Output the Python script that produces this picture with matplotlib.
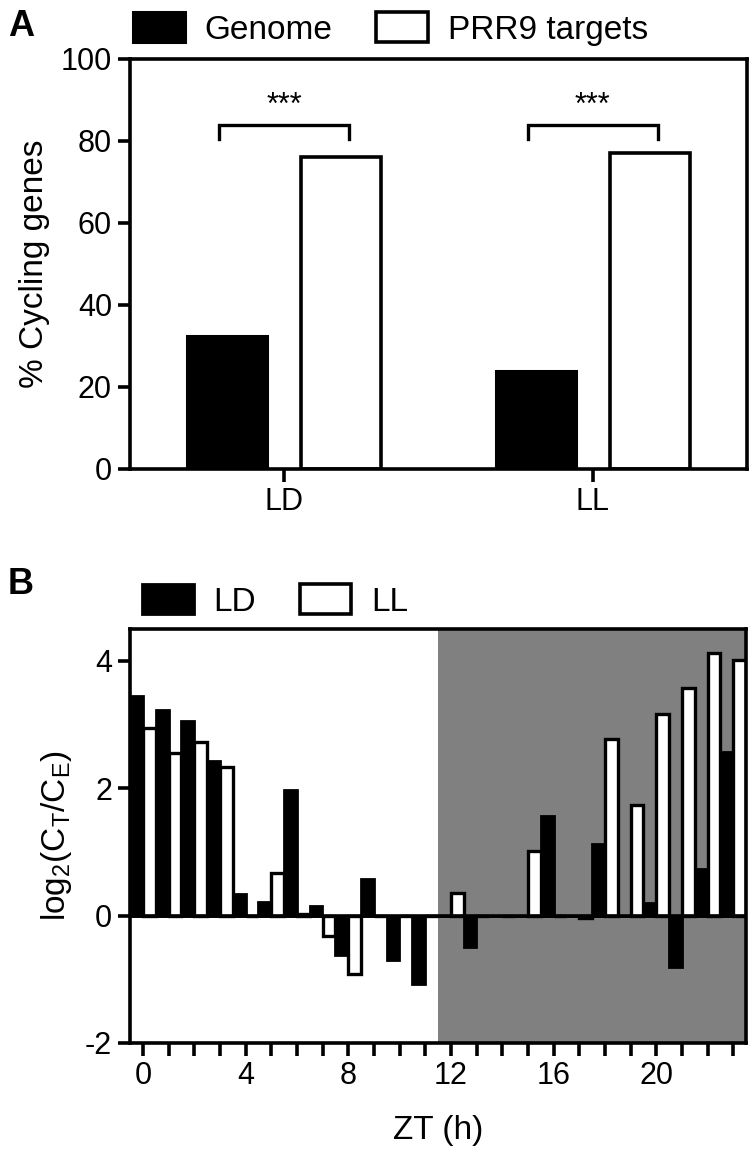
import numpy as np
import matplotlib.pyplot as plt
from matplotlib.patches import Patch

plt.rcParams['font.family'] = ['Liberation Sans', 'DejaVu Sans']
plt.rcParams['mathtext.default'] = 'regular'
plt.rcParams['axes.unicode_minus'] = False
plt.rcParams['font.size'] = 22

# Panel A: % cycling genes
conditions = ["LD", "LL"]
genome_pct = [32.4, 23.9]
prr9_pct = [76.0, 77.0]
sig_labels = ["***", "***"]

# Panel B: log2(CT/CE) per ZT hour
zt_hours = list(range(24))
ld_log2 = [3.45, 3.23, 3.06, 2.43, 0.34, 0.22, 1.97, 0.15, -0.62, 0.58, -0.70, -1.07,
           0.0, -0.49, 0.0, 0.0, 1.56, 0.0, 1.12, 0.0, 0.20, -0.80, 0.73, 2.57]
ll_log2 = [2.95, 2.55, 2.73, 2.34, 0.0, 0.67, 0.02, -0.32, -0.91, 0.0, 0.0, 0.0,
           0.35, 0.0, 0.0, 1.01, 0.0, -0.04, 2.78, 1.73, 3.17, 3.57, 4.12, 4.01]
zt_labels = ["0", "4", "8", "12", "16", "20"]

W, H = 752, 1168
fig = plt.figure(figsize=(W / 100, H / 100), dpi=100)


def px_axes(left, top, right, bottom):
    return fig.add_axes([left / W, 1 - bottom / H, (right - left) / W, (bottom - top) / H])


def style_axes(ax):
    for sp in ax.spines.values():
        sp.set_linewidth(2.6)
    ax.tick_params(width=2.6, length=9, direction="out", pad=4, labelsize=22)


legend_kw = dict(loc="center left", ncol=2, frameon=False, handlelength=1.55,
                 handleheight=1.0, handletextpad=0.6, columnspacing=1.3,
                 borderpad=0, borderaxespad=0, fontsize=24)

# ---- Panel A
axA = px_axes(130, 59, 747, 469)
style_axes(axA)
x = np.arange(len(conditions))
bw = 0.26
axA.bar(x - 0.185, genome_pct, bw, color="black", edgecolor="black", linewidth=2.2)
axA.bar(x + 0.185, prr9_pct, bw, color="white", edgecolor="black", linewidth=2.6)
axA.set_xlim(-0.5, 1.5)
axA.set_ylim(0, 100)
axA.set_yticks([0, 20, 40, 60, 80, 100])
axA.set_xticks(x)
axA.set_xticklabels(conditions)
axA.set_ylabel("% Cycling genes", fontsize=24, labelpad=8)

for xi, lab in zip(x, sig_labels):
    xl, xr = xi - 0.21, xi + 0.21
    axA.plot([xl, xl, xr, xr], [80.6, 83.8, 83.8, 80.6], color="black", lw=2.4,
             solid_joinstyle="miter")
    axA.text(xi, 85.0, lab, ha="center", va="bottom", fontsize=22)

fig.legend(handles=[Patch(facecolor="black", edgecolor="black", lw=2.2),
                    Patch(facecolor="white", edgecolor="black", lw=2.6)],
           labels=["Genome", "PRR9 targets"],
           bbox_to_anchor=(133 / W, 1 - 29 / H), **legend_kw)
fig.text(8 / W, 1 - 36 / H, "A", fontsize=26, fontweight="bold")

# ---- Panel B
axB = px_axes(130, 629, 746, 1043)
style_axes(axB)
hrs = np.array(zt_hours)
axB.axvspan(11.5, 23.5, color="#808080", lw=0, zorder=0)
axB.bar(hrs - 0.25, ld_log2, 0.5, color="black", edgecolor="black", linewidth=2.0, zorder=2)
axB.bar(hrs + 0.25, ll_log2, 0.5, color="white", edgecolor="black", linewidth=2.4, zorder=2)
axB.axhline(0, color="black", lw=2.6, zorder=3)
axB.set_xlim(-0.5, 23.5)
axB.set_ylim(-2, 4.5)
axB.set_yticks([-2, 0, 2, 4])
axB.set_xticks(hrs)
axB.set_xticklabels([str(h) if str(h) in zt_labels else "" for h in zt_hours])
axB.set_xlabel("ZT (h)", fontsize=24, labelpad=17)
axB.set_ylabel(r"log$_2$(C$_T$/C$_E$)", fontsize=24, labelpad=8)

fig.legend(handles=[Patch(facecolor="black", edgecolor="black", lw=2.0),
                    Patch(facecolor="white", edgecolor="black", lw=2.6)],
           labels=["LD", "LL"],
           bbox_to_anchor=(142 / W, 1 - 601 / H), **legend_kw)
fig.text(8 / W, 1 - 594 / H, "B", fontsize=26, fontweight="bold")

fig.savefig("out.png", dpi=100)
